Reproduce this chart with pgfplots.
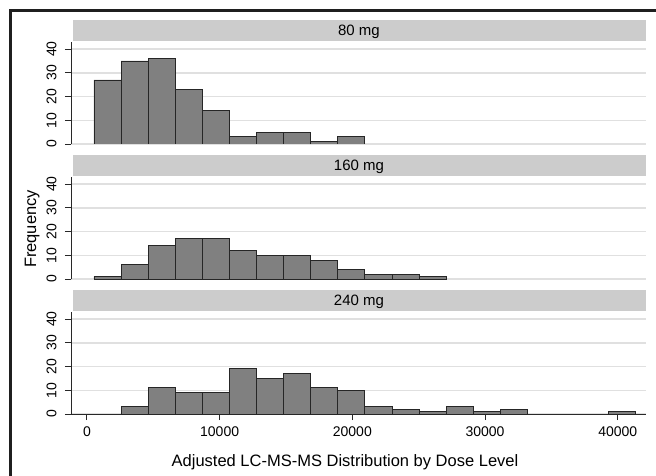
\documentclass[border=0pt]{standalone}
\usepackage{fontspec}
\setmainfont{Liberation Sans}
\usepackage{pgfplots}
\usepackage{pgfplotstable}
\pgfplotsset{compat=1.18}
\definecolor{bargray}{RGB}{128,128,128}
\definecolor{stripgray}{RGB}{204,204,204}
\definecolor{gridgray}{RGB}{224,224,224}
\definecolor{axisdark}{RGB}{40,40,40}

\pgfplotstableread{
x y
530 27
2572 35
4614 36
6656 23
8698 14
10740 3
12782 5
14824 5
16866 1
18908 3
20950 0
}\dataA
\pgfplotstableread{
x y
530 1
2572 6
4614 14
6656 17
8698 17
10740 12
12782 10
14824 10
16866 8
18908 4
20950 2
22992 2
25034 1
27076 0
}\dataB
\pgfplotstableread{
x y
2572 3
4614 11
6656 9
8698 9
10740 19
12782 15
14824 17
16866 11
18908 10
20950 3
22992 2
25034 1
27076 3
29118 1
31160 2
33202 0
35244 0
37286 0
39328 1
41370 0
}\dataC

\pgfplotsset{
 panel/.style={
  scale only axis, width=575pt, height=102pt,
  xmin=-1200, xmax=42130, ymin=0, ymax=43,
  ytick={0,10,20,30,40},
  xtick={0,10000,20000,30000,40000},
  ymajorgrids, grid style={gridgray, line width=1.4pt},
  tick align=outside, major tick length=6pt,
  every tick/.style={axisdark, line width=0.9pt},
  axis line style={axisdark, line width=0.9pt},
  y tick label style={rotate=90, anchor=south, font=\fontsize{14}{14}\selectfont},
  x tick label style={font=\fontsize{14}{14}\selectfont},
  yticklabel shift=5pt,
  xticklabel shift=3pt,
  /pgf/number format/assume math mode=true,
  /pgf/number format/1000 sep={},
  scaled x ticks=false,
  every axis title shift=0pt,
  title style={fill=stripgray, minimum width=573pt, minimum height=21pt, inner sep=0pt,
    text height=10.7pt, text depth=0pt,
    anchor=south, at={(0.5,1)}, yshift=1pt, xshift=0.5pt, font=\fontsize{15}{15}\selectfont},
 },
 bars/.style={ybar interval, fill=bargray, draw=black!85, line width=0.9pt},
}

\begin{document}
\begin{tikzpicture}
\useasboundingbox (0pt,0pt) rectangle (656pt,-476pt);
\fill[white] (0pt,0pt) rectangle (656pt,-476pt);

\begin{axis}[panel, at={(71pt,-144pt)}, anchor=south west,
  axis y line*=left, axis x line=none, title={80 mg}]
\addplot[bars] table[x=x,y=y] {\dataA};
\end{axis}

\begin{axis}[panel, at={(71pt,-279pt)}, anchor=south west,
  axis y line*=left, axis x line=none, title={160 mg}]
\addplot[bars] table[x=x,y=y] {\dataB};
\end{axis}

\begin{axis}[panel, at={(71pt,-414pt)}, anchor=south west,
  axis y line*=left, axis x line*=bottom, title={240 mg}]
\addplot[bars] table[x=x,y=y] {\dataC};
\end{axis}

\node[rotate=90, anchor=base, font=\fontsize{16.5}{16.5}\selectfont] at (36pt,-229pt) {Frequency};
\node[anchor=base, font=\fontsize{16.5}{16.5}\selectfont] at (345pt,-466.5pt) {Adjusted LC-MS-MS Distribution by Dose Level};

\draw[line width=2.6pt, black!88] (10.7pt,-477pt) -- (10.7pt,-10.7pt) -- (657pt,-10.7pt);
\end{tikzpicture}
\end{document}
